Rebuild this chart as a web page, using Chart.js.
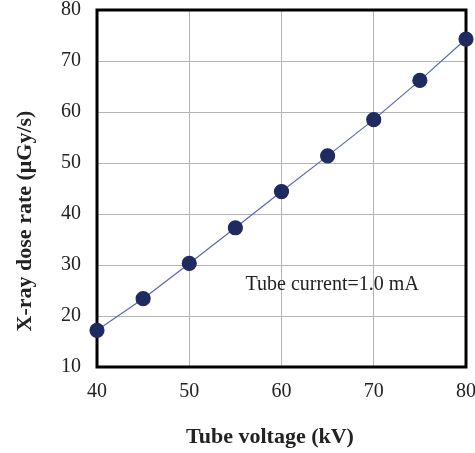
<!DOCTYPE html>
<html>
<head>
<meta charset="utf-8">
<script src="https://cdn.jsdelivr.net/npm/chart.js@4"></script>
<style>
  html, body { margin: 0; padding: 0; background: #fff; }
  #wrap { width: 475px; height: 453px; }
</style>
</head>
<body>
<div id="wrap"><canvas id="doseChart" width="475" height="453"></canvas></div>
<script>
// Chart data
const tubeVoltage = [40, 45, 50, 55, 60, 65, 70, 75, 80];
const doseRate = [17.2, 23.4, 30.3, 37.3, 44.4, 51.4, 58.5, 66.2, 74.3];
const xTicks = [40, 50, 60, 70, 80];
const yTicks = [10, 20, 30, 40, 50, 60, 70, 80];
const xTitle = 'Tube voltage (kV)';
const yTitle = 'X-ray dose rate (\u03bcGy/s)';
const noteText = 'Tube current=1.0 mA';

const serif = '"Liberation Serif", "Times New Roman", serif';

// frame + titles + note
const decorPlugin = {
    id: 'decor',
    beforeDatasetsDraw(chart) {
        const { ctx, chartArea: a } = chart;
        ctx.save();
        ctx.strokeStyle = '#000';
        ctx.lineWidth = 3;
        ctx.strokeRect(a.left, a.top, a.right - a.left, a.bottom - a.top);
        ctx.restore();
    },
    afterDraw(chart) {
        const { ctx, scales } = chart;
        ctx.save();
        ctx.fillStyle = '#222';
        ctx.font = '20px ' + serif;
        ctx.textAlign = 'left';
        ctx.textBaseline = 'middle';
        ctx.fillText(noteText, scales.x.getPixelForValue(56.1), scales.y.getPixelForValue(26.1));

        ctx.font = 'bold 22px ' + serif;
        ctx.textAlign = 'center';
        ctx.fillText(xTitle, 270, 437);

        ctx.translate(25, 221);
        ctx.rotate(-Math.PI / 2);
        ctx.fillText(yTitle, 0, 0);
        ctx.restore();
    }
};

new Chart(document.getElementById('doseChart'), {
    type: 'line',
    data: {
        labels: tubeVoltage,
        datasets: [{
            data: tubeVoltage.map((v, i) => ({ x: v, y: doseRate[i] })),
            borderColor: '#5a66b8',
            borderWidth: 1.2,
            pointBackgroundColor: '#1f2a60',
            pointBorderColor: '#1f2a60',
            pointRadius: 7,
            pointHoverRadius: 7,
            tension: 0,
            clip: false
        }]
    },
    options: {
        responsive: false,
        animation: false,
        devicePixelRatio: 1,
        layout: { padding: { top: 10, right: 9, left: 0, bottom: 0 } },
        plugins: {
            legend: { display: false },
            tooltip: { enabled: false }
        },
        scales: {
            x: {
                type: 'linear',
                min: 40,
                max: 80,
                afterBuildTicks: s => { s.ticks = xTicks.map(v => ({ value: v })); },
                afterFit: s => { s.height = 86; s.paddingLeft = 0; s.paddingRight = 0; },
                grid: { color: '#b4b4b4', lineWidth: 1, drawTicks: false },
                border: { display: false },
                ticks: {
                    color: '#222',
                    padding: 13,
                    maxRotation: 0,
                    font: { family: serif, size: 20 }
                }
            },
            y: {
                type: 'linear',
                min: 10,
                max: 80,
                afterBuildTicks: s => { s.ticks = yTicks.map(v => ({ value: v })); },
                afterFit: s => { s.width = 97; s.paddingTop = 0; s.paddingBottom = 0; },
                grid: { color: '#b4b4b4', lineWidth: 1, drawTicks: false },
                border: { display: false },
                ticks: {
                    color: '#222',
                    padding: 16,
                    font: { family: serif, size: 20 }
                }
            }
        }
    },
    plugins: [decorPlugin]
});
</script>
</body>
</html>
